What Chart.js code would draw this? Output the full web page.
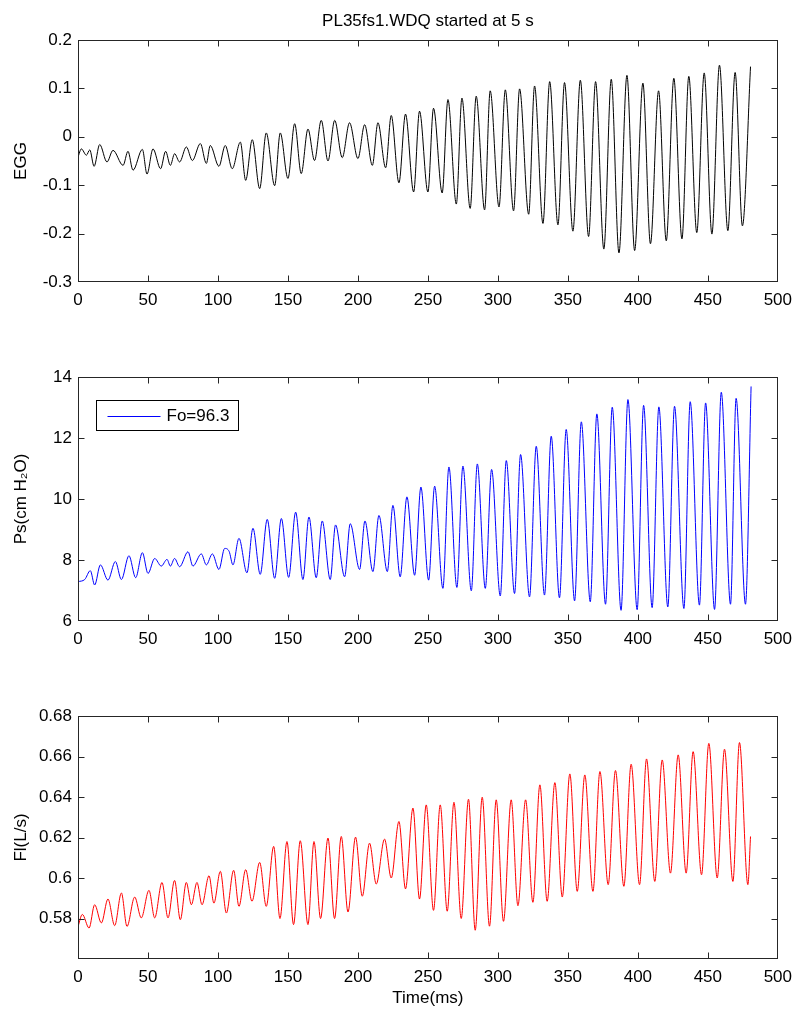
<!DOCTYPE html>
<html><head><meta charset="utf-8">
<script src="https://cdn.jsdelivr.net/npm/chart.js@4.4.1/dist/chart.umd.min.js"></script>
<style>
html,body{margin:0;padding:0;background:#fff;}
#wrap{position:relative;width:800px;height:1014px;}
canvas{position:absolute;left:0;}
</style></head><body>
<div id="wrap">
<canvas id="c1" width="800" height="330" style="top:0px"></canvas>
<canvas id="c2" width="800" height="330" style="top:330px"></canvas>
<canvas id="c3" width="800" height="354" style="top:660px"></canvas>
</div>
<script>
// ---- Data (extremes of each cycle) ----
const titleText = 'PL35fs1.WDQ started at 5 s';
const xTitle = 'Time(ms)';
const eggLabel = 'EGG';
const psLabel = 'Ps(cm H\u2082O)';
const flLabel = 'Fl(L/s)';
const legendText = 'Fo=96.3';

const xTicks = [0, 50, 100, 150, 200, 250, 300, 350, 400, 450, 500];
const eggTicks = [-0.3, -0.2, -0.1, 0, 0.1, 0.2];
const psTicks = [6, 8, 10, 12, 14];
const flTicks = [0.58, 0.6, 0.62, 0.64, 0.66, 0.68];

const eggT = [0,2.4,6,8.4,11.5,15.5,20.7,25,32.2,35.7,39.3,46,49.3,53.6,59,62.6,66,69,72.6,77.4,81.7,87.4,91.7,94.5,100.7,105.2,110.2,116,119.8,124.5,129.8,134.5,140.5,144.5,150,154.8,159.5,164.3,169,173.8,178.6,183.4,188.8,194,200,204.8,210.3,214.3,219.8,223.8,229.3,234,239.8,244,250,254,260.2,264.3,270.3,274.3,280.2,284.5,290.5,294.5,300.8,305.3,311.2,315.5,322,326.2,332.2,337,342.9,347.6,353.6,358.9,364.8,369.8,375.7,381,386.5,392.2,397.7,403.6,409,414.8,420.3,425.7,431.5,436.4,442.1,447.4,452.9,458.3,464.3,469.5,474.7,480.5];
const eggV = [-0.042,-0.025,-0.038,-0.027,-0.061,-0.016,-0.052,-0.028,-0.059,-0.030,-0.069,-0.026,-0.077,-0.025,-0.066,-0.030,-0.059,-0.035,-0.052,-0.021,-0.049,-0.014,-0.055,-0.018,-0.061,-0.018,-0.066,-0.011,-0.090,-0.006,-0.107,0.008,-0.101,0.008,-0.086,0.027,-0.076,0.016,-0.049,0.034,-0.050,0.034,-0.043,0.029,-0.045,0.025,-0.059,0.029,-0.064,0.044,-0.095,0.047,-0.114,0.053,-0.114,0.059,-0.116,0.077,-0.139,0.080,-0.148,0.084,-0.151,0.095,-0.145,0.097,-0.153,0.099,-0.160,0.105,-0.179,0.114,-0.182,0.112,-0.195,0.117,-0.206,0.114,-0.232,0.119,-0.240,0.127,-0.235,0.111,-0.221,0.095,-0.215,0.121,-0.211,0.125,-0.198,0.132,-0.201,0.148,-0.194,0.133,-0.184,0.145];

const psT = [0,4.8,8.8,11.9,16,21.4,26.7,31,36.4,41.2,46,50,54.8,59.5,63.6,66,69,72.6,78.6,82.1,88.1,91.7,96,100.7,104.8,108,110.7,115,120.7,125,130.2,135.2,140.5,145.3,150.5,155.5,160.7,165,170.2,174.5,180.2,184,190.5,194.5,201.2,205,210.7,215,221,225,230.2,235,240.5,245,250.5,254.8,260.7,265,270.7,275,281,285.3,291,295.5,301.7,306,311.9,316.2,322.6,327.4,333.3,338.1,344,348.8,354.8,359.6,366,370.7,376.9,381.7,388,392.9,399.5,404.1,410.2,415,421.4,426.2,432.9,437.4,444,448.4,454.8,459.6,466.2,470.2,476.9,480.9];
const psV = [7.29,7.36,7.65,7.18,7.84,7.34,7.95,7.36,8.14,7.42,8.24,7.56,8.05,7.8,8.02,7.8,8.05,7.78,8.27,7.8,8.2,7.84,8.2,7.69,8.38,8.28,7.84,8.71,7.58,9.04,7.53,9.33,7.4,9.36,7.43,9.57,7.36,9.41,7.42,9.28,7.36,9.15,7.45,9.19,7.69,9.28,7.62,9.46,7.62,9.79,7.45,10.07,7.5,10.39,7.34,10.42,7.07,11.05,7.1,11.08,6.99,11.15,7.07,10.97,6.82,11.26,6.9,11.46,6.79,11.73,6.85,12.06,6.76,12.28,6.66,12.53,6.63,12.79,6.55,13.01,6.35,13.26,6.37,13.07,6.44,13.02,6.46,13.04,6.41,13.19,6.52,13.15,6.38,13.5,6.55,13.3,6.55,13.69];

const flT = [0,3.1,7.9,11.9,16.7,21.4,26.2,31,35,40.5,45.2,50.7,54.8,60,64.3,69,73.1,77.4,81,85,88.6,93.6,97.1,101.7,106,111.2,115,119.8,124.3,129.8,134.5,139.8,144.3,149.3,154,158.8,164.3,168.6,173.3,178.6,183.3,188.1,192.9,198.3,203.1,208.3,213.1,219,223.8,229.3,234,239.3,244,248.8,254,258.8,263.8,268.6,273.8,279,283.8,288.8,294,298.8,304,309.5,314.3,319.8,325,330,335.2,340.7,346,351.4,356.7,362.1,367.9,372.9,378.8,384,390,395.2,401.2,406.2,412.1,417.4,423.3,428.8,434.5,439.5,445.5,450.7,456.7,461.9,467.9,472.6,478.6,480.5];
const flV = [0.576,0.582,0.5753,0.5868,0.5778,0.5896,0.5765,0.5926,0.5761,0.5906,0.5803,0.5939,0.5803,0.5978,0.5803,0.5988,0.5794,0.5978,0.5868,0.5978,0.5868,0.6011,0.5876,0.6033,0.5827,0.6038,0.586,0.6041,0.5885,0.6077,0.586,0.6156,0.58,0.618,0.577,0.6184,0.577,0.618,0.58,0.6197,0.58,0.6205,0.5832,0.6202,0.591,0.6172,0.597,0.6192,0.6,0.6279,0.5946,0.6345,0.5896,0.6361,0.584,0.6361,0.5836,0.6374,0.58,0.6389,0.5742,0.6399,0.5762,0.6386,0.5786,0.6386,0.5863,0.6386,0.588,0.646,0.5885,0.6471,0.5906,0.6514,0.5934,0.6509,0.5934,0.6526,0.5967,0.6531,0.5959,0.6562,0.5967,0.6588,0.5983,0.6583,0.6024,0.6608,0.6024,0.6624,0.6016,0.6665,0.6,0.6636,0.5983,0.6669,0.5967,0.6205];

// ---- Chart setup ----
Chart.defaults.font.family = '"Liberation Sans", Arial, Helvetica, sans-serif';
Chart.defaults.font.size = 17;
Chart.defaults.color = '#000';

const AXIS_COLOR = '#262626';

const boxTicks = {
  id: 'boxTicks',
  afterDraw(chart) {
    const {ctx, chartArea: a, scales: {x, y}} = chart;
    const L = Math.round(a.left) + 0.5, R = Math.round(a.right) - 0.5;
    const T = Math.round(a.top) + 0.5, B = Math.round(a.bottom) - 0.5;
    const len = 6;
    ctx.save();
    ctx.strokeStyle = AXIS_COLOR;
    ctx.lineWidth = 1;
    ctx.strokeRect(L, T, R - L, B - T);
    ctx.beginPath();
    x.ticks.forEach(t => {
      const px = Math.round(x.getPixelForValue(t.value)) + 0.5;
      if (px <= L + 1 || px >= R - 1) return;
      ctx.moveTo(px, B); ctx.lineTo(px, B - len);
      ctx.moveTo(px, T); ctx.lineTo(px, T + len);
    });
    y.ticks.forEach(t => {
      const py = Math.round(y.getPixelForValue(t.value)) + 0.5;
      if (py <= T + 1 || py >= B - 1) return;
      ctx.moveTo(L, py); ctx.lineTo(L + len, py);
      ctx.moveTo(R, py); ctx.lineTo(R - len, py);
    });
    ctx.stroke();
    ctx.restore();
  }
};

const legendBox = {
  id: 'legendBox',
  afterDraw(chart) {
    const {ctx, chartArea: a} = chart;
    const ds = chart.data.datasets[0];
    const x0 = Math.round(a.left + 18) + 0.5, y0 = Math.round(a.top + 23) + 0.5;
    const w = 142, h = 30;
    ctx.save();
    ctx.fillStyle = '#fff';
    ctx.fillRect(x0, y0, w, h);
    ctx.strokeStyle = '#000';
    ctx.lineWidth = 1;
    ctx.strokeRect(x0, y0, w, h);
    ctx.strokeStyle = ds.borderColor;
    ctx.beginPath();
    ctx.moveTo(x0 + 11, Math.round(y0 + h / 2) + 0.5);
    ctx.lineTo(x0 + 64, Math.round(y0 + h / 2) + 0.5);
    ctx.stroke();
    ctx.fillStyle = '#000';
    ctx.font = '17px "Liberation Sans", Arial, sans-serif';
    ctx.textBaseline = 'middle';
    ctx.textAlign = 'left';
    ctx.fillText(ds.label, x0 + 70, y0 + h / 2 + 1);
    ctx.restore();
  }
};

const fmt = v => String(+Number(v).toFixed(4));

function makeChart(id, cfg) {
  const pts = cfg.t.map((t, i) => ({x: t, y: cfg.v[i]}));
  const plugins = [boxTicks];
  if (cfg.legend) plugins.push(legendBox);
  return new Chart(document.getElementById(id), {
    type: 'line',
    data: {
      datasets: [{
        label: cfg.label,
        data: pts,
        borderColor: cfg.color,
        borderWidth: 1,
        pointRadius: 0,
        fill: false,
        cubicInterpolationMode: 'monotone'
      }]
    },
    options: {
      responsive: false,
      animation: false,
      events: [],
      devicePixelRatio: 1,
      layout: {padding: {left: 0, right: 22, top: cfg.padTop, bottom: 0}},
      plugins: {
        legend: {display: false},
        tooltip: {enabled: false},
        title: cfg.title ? {
          display: true, text: cfg.title, fullSize: false, color: '#000',
          font: {size: 17, weight: 'normal'},
          padding: {top: 10.8, bottom: 8.8}
        } : {display: false}
      },
      scales: {
        x: {
          type: 'linear', min: 0, max: 500,
          afterBuildTicks: s => { s.ticks = xTicks.map(v => ({value: v})); },
          afterFit: s => { s.height = cfg.xH; },
          grid: {display: false, drawTicks: false},
          border: {display: false},
          ticks: {padding: 8, color: '#000', callback: fmt, maxRotation: 0, autoSkip: false},
          title: cfg.xTitle ? {display: true, text: cfg.xTitle, color: '#000', padding: {top: 0, bottom: 5.8}} : {display: false}
        },
        y: {
          type: 'linear', min: cfg.yMin, max: cfg.yMax,
          afterBuildTicks: s => { s.ticks = cfg.yTicks.map(v => ({value: v})); },
          afterFit: s => { s.width = 78; },
          grid: {display: false, drawTicks: false},
          border: {display: false},
          ticks: {padding: 6, color: '#000', callback: fmt, autoSkip: false},
          title: {display: true, text: cfg.yTitle, color: '#000', padding: {top: 10.8, bottom: 0}}
        }
      }
    },
    plugins
  });
}

makeChart('c1', {t: eggT, v: eggV, label: eggLabel, color: '#000000', yMin: -0.3, yMax: 0.2, yTicks: eggTicks,
  yTitle: eggLabel, title: titleText, padTop: 0, xH: 48});
makeChart('c2', {t: psT, v: psV, label: legendText, color: '#0000ff', yMin: 6, yMax: 14, yTicks: psTicks,
  yTitle: psLabel, padTop: 47, xH: 39, legend: true});
makeChart('c3', {t: flT, v: flV, label: flLabel, color: '#ff0000', yMin: 0.56, yMax: 0.68, yTicks: flTicks,
  yTitle: flLabel, padTop: 56, xH: 55, xTitle: xTitle});
</script>
</body></html>
